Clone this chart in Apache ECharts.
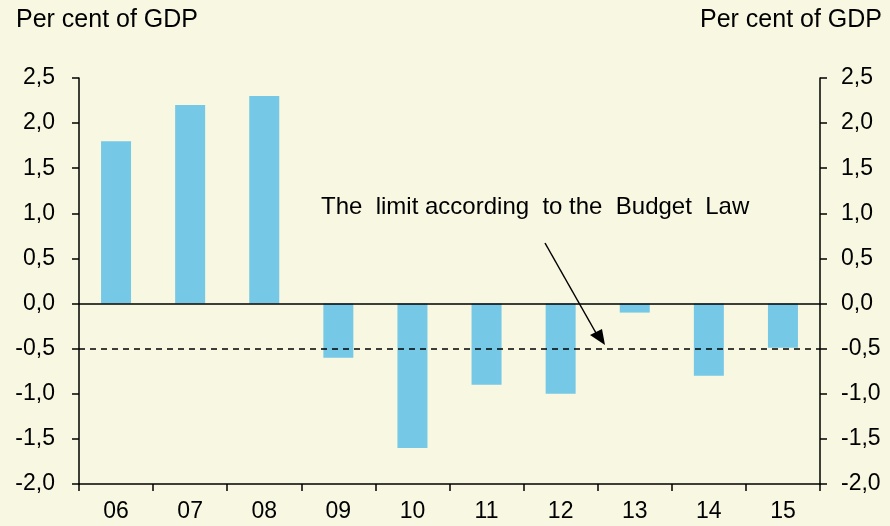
<!DOCTYPE html>
<html>
<head>
<meta charset="utf-8">
<script src="https://cdn.jsdelivr.net/npm/echarts@6/dist/echarts.min.js"></script>
<style>
  html, body { margin: 0; padding: 0; background: #F8F7E1; }
  #chart { width: 890px; height: 526px; }
</style>
</head>
<body>
<div id="chart"></div>
<script>
// 年份 (x轴)
const years = ['06', '07', '08', '09', '10', '11', '12', '13', '14', '15'];
// 结构性余额, 占GDP百分比
const balance = [1.8, 2.2, 2.3, -0.6, -1.6, -0.9, -1.0, -0.1, -0.8, -0.49];
// 预算法限制
const limitValue = -0.5;

const fmt = v => v.toFixed(1).replace('.', ',');
const font = 'Liberation Sans, Arial, sans-serif';

const yAxisBase = {
  type: 'value',
  min: -2,
  max: 2.5,
  interval: 0.5,
  splitLine: { show: false },
  axisLine: { show: true, lineStyle: { color: '#000', width: 1.5 } },
  axisTick: { show: true, inside: false, length: 7, lineStyle: { color: '#000', width: 1.5 } },
  axisLabel: { color: '#000', fontSize: 23, fontFamily: font, formatter: fmt }
};

const chart = echarts.init(document.getElementById('chart'));
chart.setOption({
  backgroundColor: '#F8F7E1',
  animation: false,
  grid: { left: 79, right: 70, top: 78, bottom: 42 },
  xAxis: {
    type: 'category',
    data: years,
    boundaryGap: true,
    axisLine: { onZero: false, lineStyle: { color: '#000', width: 1.5 } },
    axisTick: { show: true, alignWithLabel: false, length: 7, lineStyle: { color: '#000', width: 1.5 } },
    axisLabel: { color: '#000', fontSize: 23, fontFamily: font, margin: 16 }
  },
  yAxis: [
    Object.assign({}, yAxisBase, { position: 'left', axisLabel: Object.assign({}, yAxisBase.axisLabel, { margin: 24 }) }),
    Object.assign({}, yAxisBase, { position: 'right', axisLabel: Object.assign({}, yAxisBase.axisLabel, { margin: 21 }) })
  ],
  graphic: [
    { type: 'text', left: 16, top: 8, style: { text: 'Per cent of GDP', font: '25px ' + font, fill: '#000' } },
    { type: 'text', right: 8, top: 8, style: { text: 'Per cent of GDP', font: '25px ' + font, fill: '#000' } },
    { type: 'text', left: 321, top: 195, style: { text: 'The  limit according  to the  Budget  Law', font: '24px ' + font, fill: '#000' } },
    { type: 'line', shape: { x1: 545, y1: 243, x2: 596, y2: 333 }, style: { stroke: '#000', lineWidth: 1.5 } },
    { type: 'polygon', shape: { points: [[605, 345], [590, 335], [602, 329]] }, style: { fill: '#000' } }
  ],
  series: [{
    type: 'bar',
    data: balance,
    barWidth: 30,
    itemStyle: { color: '#75C8E6' },
    markLine: {
      silent: true,
      symbol: 'none',
      label: { show: false },
      data: [
        { yAxis: 0, lineStyle: { color: '#000', type: 'solid', width: 1.5 } },
        { yAxis: limitValue, lineStyle: { color: '#000', type: [6, 5], width: 1.5 } }
      ]
    }
  }]
});
</script>
</body>
</html>
